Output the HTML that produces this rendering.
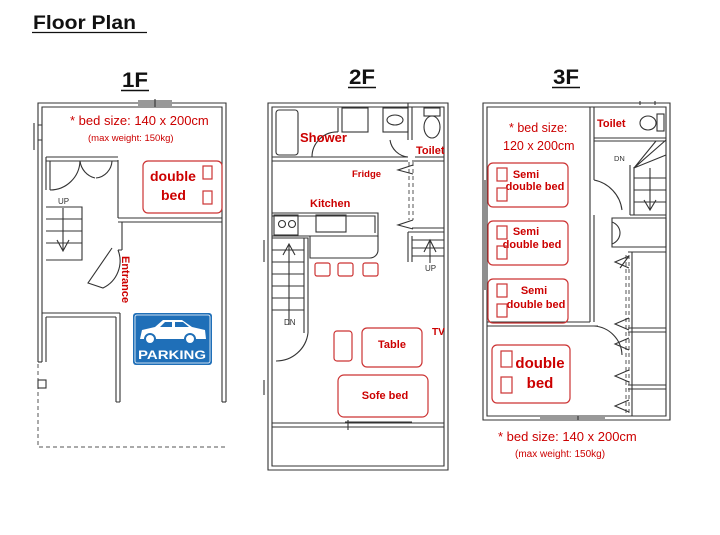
<!DOCTYPE html>
<html><head><meta charset="utf-8"><style>
html,body{margin:0;padding:0;background:#fff;}
svg{display:block;font-family:"Liberation Sans",sans-serif;}
.w{fill:none;stroke:#333;stroke-width:1.1;}
.r{fill:none;stroke:#c33;stroke-width:1.2;}
.t{fill:#c00;font-weight:bold;}
.d{fill:none;stroke:#555;stroke-width:1;stroke-dasharray:4 3;}
</style></head><body>
<svg width="720" height="535" viewBox="0 0 720 535">
<text x="33" y="29" font-size="19" font-weight="bold" fill="#111" textLength="103" lengthAdjust="spacingAndGlyphs">Floor Plan</text>
<line x1="32" y1="32.5" x2="147" y2="32.5" stroke="#111" stroke-width="1.2"/>
<text x="122" y="87" font-size="21" font-weight="bold" fill="#111" textLength="26" lengthAdjust="spacingAndGlyphs">1F</text>
<line x1="121" y1="90.5" x2="149" y2="90.5" stroke="#111" stroke-width="1.5"/>
<text x="349" y="84" font-size="21" font-weight="bold" fill="#111" textLength="26" lengthAdjust="spacingAndGlyphs">2F</text>
<line x1="348" y1="87.5" x2="376" y2="87.5" stroke="#111" stroke-width="1.5"/>
<text x="553" y="84" font-size="21" font-weight="bold" fill="#111" textLength="26" lengthAdjust="spacingAndGlyphs">3F</text>
<line x1="552" y1="87.5" x2="580" y2="87.5" stroke="#111" stroke-width="1.5"/>

<g>
<path class="w" d="M38 362 V103 H226 V402 M42 362 V107 H222 V402"/>
<path class="w" d="M38 362 H42"/>
<path class="d" d="M38 364 V447 H226"/>
<rect class="w" x="38" y="380" width="8" height="8"/>
<path class="w" d="M138 101 H172 M138 105 H172 M155 99 V107"/>
<path class="w" d="M34 123 V150 M38 125 H42 M38 140 H42"/>
<path class="w" d="M118 218 H222 M118 222 H222 M118 160 V218 M122 222 V250 M118 250 H122"/>
<path class="w" d="M46 157 H118 M46 161 H118 M46 157 V190 M50 161 V190"/>
<path class="w" d="M50 190 A30 30 0 0 0 80 161"/>
<path class="w" d="M80 161 A20 20 0 0 0 95 178 M112 161 A18 18 0 0 1 96 178"/>
<path class="w" d="M46 207 H82 V260 H46 M46 219 H82 M46 231 H82 M46 243 H82 M63 208 V250 M57 240 L63 251 L69 240"/>
<text x="58" y="204" font-size="8" fill="#333">UP</text>
<path class="w" d="M112 248 L88 283 L103 288 A30 30 0 0 0 118 250"/>
<text class="t" font-size="11" transform="translate(122,256) rotate(90)">Entrance</text>
<path class="w" d="M42 313 H120 M46 317 H116 M116 317 V402 M120 313 V402 M116 402 H120 M46 317 V362"/>
<path class="w" d="M222 402 H226"/>
<text x="70" y="125" font-size="13" fill="#c00">* bed size: 140 x 200cm</text>
<text x="88" y="141" font-size="9.5" fill="#c00">(max weight: 150kg)</text>
<rect class="r" x="143" y="161" width="79" height="52" rx="5"/>
<text class="t" x="150" y="181" font-size="14">double</text>
<text class="t" x="161" y="200" font-size="14">bed</text>
<rect class="r" x="203" y="166" width="9" height="13"/>
<rect class="r" x="203" y="191" width="9" height="13"/>
<rect x="133" y="313" width="79" height="52" rx="3" fill="#1f6fb8"/>
<rect x="135" y="315" width="75" height="48" rx="2" fill="none" stroke="#fff" stroke-width="0.8"/>
<path d="M140 339 L142 330 L155 327 L163 320 L182 320 L192 327 L205 330 L206 339 Z" fill="#fff"/>
<path d="M160 327 L165 322 L172 322 L172 327 Z M175 322 L183 322 L189 327 L175 327 Z" fill="#1f6fb8"/>
<circle cx="150" cy="339" r="5" fill="#fff" stroke="#1f6fb8" stroke-width="2"/>
<circle cx="190" cy="339" r="5" fill="#fff" stroke="#1f6fb8" stroke-width="2"/>
<text x="172" y="359" font-size="12" font-weight="bold" fill="#fff" text-anchor="middle" textLength="68" lengthAdjust="spacingAndGlyphs">PARKING</text>
</g>

<g>
<path class="w" d="M268 103 H448 V470 H268 Z M272 107 H444 V466 H272 Z"/>
<path class="w" d="M272 423 H444 M272 427 H444 M348 420 V430 M345 422 H412"/>
<path class="w" d="M264 240 V262 M264 380 V395"/>
<path class="w" d="M272 157 H408 M272 161 H408 M415 157 H444 M415 161 H444"/>
<rect class="w" x="276" y="110" width="22" height="45" rx="3"/>
<rect class="w" x="342" y="108" width="26" height="24"/>
<path class="w" d="M338 108 V132"/>
<rect class="w" x="383" y="108" width="25" height="24"/>
<ellipse class="w" cx="395" cy="120" rx="8" ry="5"/>
<path class="w" d="M408 103 V140 M412 107 V140"/>
<path class="w" d="M312 157 A25 25 0 0 1 338 132"/>
<path class="w" d="M390 140 A20 20 0 0 0 408 157"/>
<rect class="w" x="424" y="108" width="16" height="8"/>
<ellipse class="w" cx="432" cy="127" rx="8" ry="11"/>
<text class="t" x="300" y="142" font-size="13">Shower</text>
<text class="t" x="416" y="154" font-size="11">Toilet</text>
<path class="d" d="M409 162 V220 M413 162 V220"/>
<path class="w" d="M413 165 L398 170 L413 174 M413 220 L398 225 L413 229"/>
<path class="w" d="M412 161 H444 M412 228 H444"/>
<text class="t" x="352" y="177" font-size="9.5">Fridge</text>
<text class="t" x="310" y="207" font-size="11">Kitchen</text>
<path class="w" d="M272 213 H378 V236 H272 M272 216 H375 V233"/>
<rect class="w" x="274" y="215" width="24" height="20"/>
<circle class="w" cx="282" cy="224" r="3.5"/>
<circle class="w" cx="292" cy="224" r="3.5"/>
<rect class="w" x="316" y="215" width="30" height="17"/>
<path class="w" d="M310 236 V258 H370 A8 8 0 0 0 378 250 V236"/>
<rect class="r" x="315" y="263" width="15" height="13" rx="2"/>
<rect class="r" x="338" y="263" width="15" height="13" rx="2"/>
<rect class="r" x="363" y="263" width="15" height="13" rx="2"/>
<path class="w" d="M272 238 H308 V333 M304 238 V333 M272 250 H304 M272 262 H304 M272 274 H304 M272 286 H304 M272 298 H304 M272 310 H304 M289 245 V325 M283 255 L289 244 L295 255"/>
<text x="284" y="325" font-size="8" fill="#333">DN</text>
<path class="w" d="M276 361 A32 32 0 0 0 308 333"/>
<path class="w" d="M408 232 H444 M408 232 V262 M412 236 V262 M412 240 H444 M412 248 H444 M412 256 H444 M430 240 V263 M424 252 L430 240 L436 252"/>
<text x="425" y="271" font-size="8" fill="#333">UP</text>
<rect class="r" x="334" y="331" width="18" height="30" rx="3"/>
<rect class="r" x="362" y="328" width="60" height="39" rx="5"/>
<text class="t" x="392" y="348" font-size="11" text-anchor="middle">Table</text>
<rect class="r" x="338" y="375" width="90" height="42" rx="6"/>
<text class="t" x="385" y="399" font-size="11" text-anchor="middle">Sofe bed</text>
<text class="t" x="432" y="335" font-size="10">TV</text>
</g>

<g>
<path class="w" d="M483 103 H670 V420 H483 Z M487 107 H666 V416 H487 Z"/>
<path class="w" d="M540 418 H605 M578 416 V420"/>
<path class="w" d="M590 107 V322 M594 107 V180 M594 215 V322"/>
<path class="w" d="M487 322 H590 M487 326 H598"/>
<path class="w" d="M594 180 A35 35 0 0 1 622 210 M594 326 A30 30 0 0 1 622 355"/>
<path class="w" d="M485 180 V290"/>
<path class="w" d="M594 138 H666 M594 141 H666"/>
<ellipse class="w" cx="648" cy="123" rx="8" ry="7"/>
<rect class="w" x="657" y="114" width="7" height="17"/>
<path class="w" d="M640 101 V105 M655 101 V105"/>
<text class="t" x="597" y="127" font-size="11">Toilet</text>
<path class="w" d="M630 165 V215 M634 167 V215 M634 168 L666 140 M634 168 L666 155 M634 168 L656 141 M634 178 H666 M634 190 H666 M634 202 H666 M650 168 V210 M644 200 L650 210 L656 200 M630 215 H666"/>
<text x="614" y="161" font-size="7.5" fill="#333">DN</text>
<path class="w" d="M612 218 H666 V247 H612 Z"/>
<path class="w" d="M612 222 A12 12 0 0 1 620 232 A12 12 0 0 1 612 244"/>
<path class="w" d="M628 252 H666 M628 328 H666 M628 385 H666 M632 252 V416 M628 332 H666 M628 389 H666"/>
<path class="d" d="M626 255 V416 M629 255 V416"/>
<path class="w" d="M629 256 L615 262 L629 268 M629 256 L620 268 M629 318 L615 324 L629 330 M629 338 L615 344 L629 350 M629 370 L615 376 L629 382 M629 400 L615 406 L629 412"/>
<text x="509" y="132" font-size="12.5" fill="#c00">* bed size:</text>
<text x="503" y="150" font-size="12.5" fill="#c00">120 x 200cm</text>
<g>
<rect class="r" x="488" y="163" width="80" height="44" rx="5"/>
<text class="t" x="526" y="178" font-size="11" text-anchor="middle">Semi</text>
<text class="t" x="535" y="190" font-size="11" text-anchor="middle">double bed</text>
<rect class="r" x="497" y="168" width="10" height="13"/><rect class="r" x="497" y="188" width="10" height="13"/>
</g>
<g>
<rect class="r" x="488" y="221" width="80" height="44" rx="5"/>
<text class="t" x="526" y="235" font-size="11" text-anchor="middle">Semi</text>
<text class="t" x="532" y="248" font-size="11" text-anchor="middle">double bed</text>
<rect class="r" x="497" y="226" width="10" height="13"/><rect class="r" x="497" y="246" width="10" height="13"/>
</g>
<g>
<rect class="r" x="488" y="279" width="80" height="44" rx="5"/>
<text class="t" x="534" y="294" font-size="11" text-anchor="middle">Semi</text>
<text class="t" x="536" y="308" font-size="11" text-anchor="middle">double bed</text>
<rect class="r" x="497" y="284" width="10" height="13"/><rect class="r" x="497" y="304" width="10" height="13"/>
</g>
<rect class="r" x="492" y="345" width="78" height="58" rx="5"/>
<text class="t" x="540" y="368" font-size="15" text-anchor="middle">double</text>
<text class="t" x="540" y="388" font-size="15" text-anchor="middle">bed</text>
<rect class="r" x="501" y="351" width="11" height="16"/><rect class="r" x="501" y="377" width="11" height="16"/>
<text x="498" y="441" font-size="13" fill="#c00">* bed size: 140 x 200cm</text>
<text x="515" y="457" font-size="10" fill="#c00">(max weight: 150kg)</text>
</g>
</svg>
</body></html>
